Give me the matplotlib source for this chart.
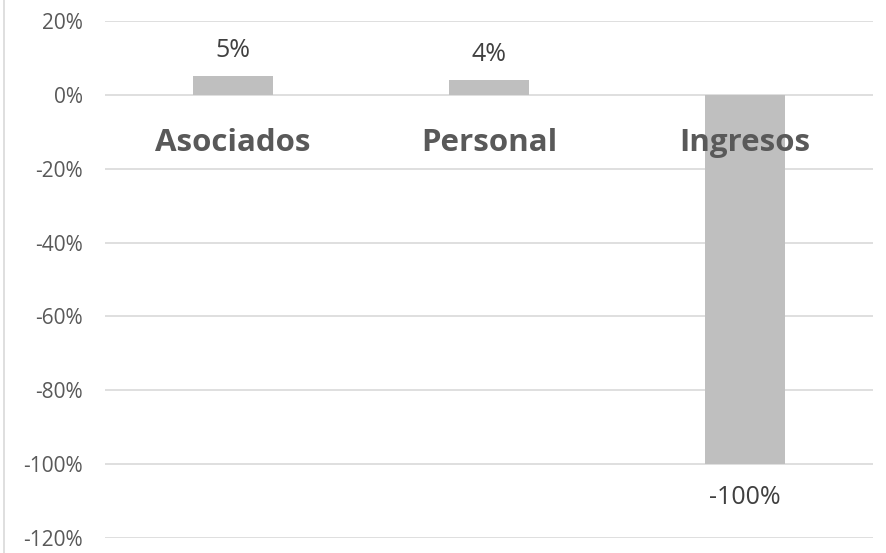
import matplotlib
matplotlib.use("Agg")
import matplotlib.pyplot as plt
from matplotlib.lines import Line2D

categories = ["Asociados", "Personal", "Ingresos"]
values = [5, 4, -100]
yticks = [20, 0, -20, -40, -60, -80, -100, -120]

W, H = 887, 553
fig = plt.figure(figsize=(W / 100, H / 100), dpi=100)
ax = fig.add_axes([105 / W, (H - 538) / H, (873 - 105) / W, (538 - 21) / H])

x = list(range(len(categories)))
ax.bar(x, values, width=0.3125, color="#bfbfbf", zorder=2)
ax.set_xlim(-0.5, len(categories) - 0.5)
ax.set_ylim(-120, 20)
ax.set_yticks(yticks)
ax.set_yticklabels([f"{v}%" for v in yticks], fontsize=15, color="#595959", family="Open Sans")
ax.set_xticks([])
ax.tick_params(axis="y", length=0, pad=16)
ax.grid(axis="y", color="#d9d9d9", lw=1.2, zorder=0)
for s in ax.spines.values():
    s.set_visible(False)

for xi, v, c in zip(x, values, categories):
    off = 26 if v >= 0 else -33
    ax.annotate(f"{v}%", (xi, v), xytext=(0, off * 0.72), textcoords="offset points",
                ha="center", va="center", fontsize=18, color="#404040", family="Open Sans")
    ax.annotate(c, (xi, 0), xytext=(0, -48 * 0.72), textcoords="offset points",
                ha="center", va="center", fontsize=22.5, fontweight="bold", color="#595959",
                family="Open Sans", zorder=3)

fig.add_artist(Line2D([4.5 / W, 4.5 / W], [0, 1], transform=fig.transFigure, color="#d9d9d9", lw=1.2))

fig.savefig("out.png", dpi=100)
